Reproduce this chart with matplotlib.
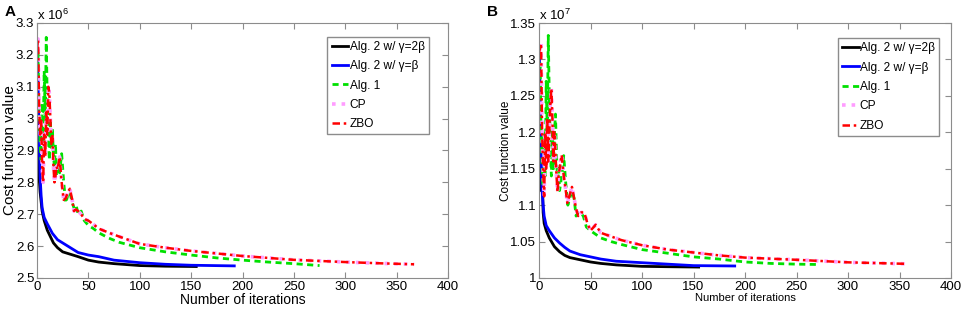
import matplotlib
matplotlib.use('Agg')

import matplotlib.pyplot as plt
from matplotlib.ticker import FormatStrFormatter

plt.rcParams['font.family'] = ['Liberation Sans', 'DejaVu Sans']
plt.rcParams['mathtext.fontset'] = 'custom'
plt.rcParams['mathtext.rm'] = 'Liberation Sans'
plt.rcParams['mathtext.it'] = 'Liberation Sans:italic'

labels = ['Alg. 2 w/ \u03b3=2\u03b2', 'Alg. 2 w/ \u03b3=\u03b2', 'Alg. 1', 'CP', 'ZBO']

## panel A, values in units of 1e6
a_black_x = [0, 1, 2, 3, 4, 5, 7, 10, 13, 16, 20, 25, 30, 40, 50, 60, 75, 100, 125, 155]
a_black_y = [3.22, 3.0, 2.82, 2.77, 2.74, 2.71, 2.68, 2.65, 2.63, 2.61, 2.595, 2.582, 2.577, 2.567,
             2.556, 2.55, 2.545, 2.539, 2.537, 2.536]
a_blue_x = [0, 1, 2, 3, 4, 5, 7, 10, 15, 20, 25, 30, 40, 50, 60, 75, 100, 125, 150, 192]
a_blue_y = [3.23, 3.12, 2.95, 2.82, 2.76, 2.72, 2.69, 2.67, 2.64, 2.62, 2.61, 2.6, 2.58, 2.572,
            2.567, 2.556, 2.548, 2.543, 2.54, 2.538]
a_alg1_x = [1, 2, 3, 4, 5, 6, 7, 8, 9, 10, 11, 12, 13, 14, 15, 16, 17, 18, 19, 20, 22, 24, 26, 28,
            30, 32, 34, 36, 38, 40, 43, 46, 50, 55, 60, 70, 80, 100, 125, 150, 175, 200, 225, 250, 275]
a_alg1_y = [3.21, 3.0, 2.92, 2.87, 3.05, 2.93, 3.15, 3.0, 3.255, 3.05, 2.95, 2.87, 3.0, 2.9, 2.97,
            2.88, 2.85, 2.92, 2.82, 2.85, 2.83, 2.89, 2.8, 2.735, 2.76, 2.77, 2.74, 2.72, 2.73, 2.7,
            2.71, 2.68, 2.665, 2.655, 2.642, 2.625, 2.612, 2.595, 2.582, 2.572, 2.563, 2.556, 2.55,
            2.545, 2.539]
a_zbo_x = [0, 1, 2, 3, 4, 5, 6, 7, 8, 9, 10, 11, 12, 13, 14, 15, 16, 17, 18, 19, 20, 22, 24, 26,
           28, 30, 32, 34, 36, 38, 40, 43, 46, 50, 55, 60, 70, 80, 100, 125, 150, 175, 200, 250,
           300, 335, 367]
a_zbo_y = [3.22, 3.25, 3.05, 2.95, 3.0, 2.85, 2.8, 2.95, 2.88, 3.02, 2.95, 3.1, 3.08, 3.0, 2.92,
           2.95, 2.85, 2.8, 2.82, 2.85, 2.84, 2.88, 2.8, 2.745, 2.75, 2.77, 2.78, 2.75, 2.71, 2.715,
           2.71, 2.7, 2.685, 2.68, 2.668, 2.655, 2.642, 2.63, 2.607, 2.595, 2.585, 2.577, 2.569,
           2.557, 2.55, 2.546, 2.543]
a_cp_x = a_zbo_x
a_cp_y = a_zbo_y

## panel B, values in units of 1e7
b_black_x = [0, 1, 2, 3, 4, 5, 7, 10, 15, 20, 25, 30, 40, 50, 60, 75, 100, 125, 155]
b_black_y = [1.31, 1.2, 1.12, 1.15, 1.09, 1.075, 1.065, 1.055, 1.043, 1.036, 1.031, 1.028, 1.025,
             1.022, 1.02, 1.018, 1.016, 1.0155, 1.015]
b_blue_x = [0, 1, 2, 3, 4, 5, 7, 10, 15, 20, 25, 30, 40, 50, 60, 75, 100, 125, 150, 190]
b_blue_y = [1.315, 1.26, 1.17, 1.12, 1.1, 1.085, 1.072, 1.065, 1.055, 1.048, 1.042, 1.037, 1.032,
            1.029, 1.026, 1.023, 1.021, 1.019, 1.017, 1.0165]
b_alg1_x = [1, 2, 3, 4, 5, 6, 7, 8, 9, 10, 11, 12, 13, 14, 15, 16, 17, 18, 19, 20, 22, 24, 26, 28,
            30, 32, 34, 36, 38, 40, 43, 46, 50, 55, 60, 70, 80, 100, 125, 150, 175, 200, 225, 250, 272]
b_alg1_y = [1.31, 1.2, 1.15, 1.125, 1.2, 1.14, 1.27, 1.2, 1.333, 1.25, 1.18, 1.14, 1.2, 1.15, 1.2,
            1.225, 1.17, 1.13, 1.15, 1.12, 1.14, 1.168, 1.13, 1.1, 1.11, 1.12, 1.11, 1.085, 1.09,
            1.09, 1.085, 1.07, 1.065, 1.06, 1.055, 1.05, 1.046, 1.039, 1.034, 1.029, 1.026, 1.022,
            1.02, 1.019, 1.0185]
b_zbo_x = [0, 1, 2, 3, 4, 5, 6, 7, 8, 9, 10, 11, 12, 13, 14, 15, 16, 17, 18, 19, 20, 22, 24, 26,
           27.5, 30, 32, 34, 36, 38, 41, 44, 47, 50, 55, 60, 70, 80, 100, 125, 150, 175, 200, 250,
           300, 355]
b_zbo_y = [1.31, 1.315, 1.322, 1.2, 1.15, 1.112, 1.2, 1.15, 1.22, 1.16, 1.2, 1.24, 1.26, 1.22,
           1.16, 1.2, 1.17, 1.14, 1.118, 1.14, 1.15, 1.169, 1.14, 1.12, 1.103, 1.115, 1.125, 1.11,
           1.095, 1.085, 1.09, 1.09, 1.075, 1.065, 1.073, 1.062, 1.057, 1.052, 1.045, 1.039,
           1.035, 1.031, 1.028, 1.025, 1.0215, 1.0195]
b_cp_x = b_zbo_x
b_cp_y = b_zbo_y

gray = '#8c8c8c'


def draw(ax, black, blue, alg1, cp, zbo, ylim, ystep, exp, xlab_size, ylab_size, leg_anchor):
    ax.plot(*black, color='black', lw=2, label=labels[0])
    ax.plot(*blue, color='#0000ff', lw=2, label=labels[1])
    ax.plot(*alg1, color='#00e000', lw=2, ls=(0, (2.2, 1.6)), label=labels[2])
    ax.plot(*cp, color='#ff9cff', lw=2.6, ls=':', label=labels[3])
    ax.plot(*zbo, color='#ff0000', lw=1.8, ls=(0, (3, 1.5, 1, 1.5)), label=labels[4])

    ax.set_xlim(0, 400)
    ax.set_ylim(*ylim)
    ax.set_xticks(range(0, 401, 50))
    n = int(round((ylim[1] - ylim[0]) / ystep))
    ax.set_yticks([ylim[0] + i * ystep for i in range(n + 1)])
    ax.yaxis.set_major_formatter(FormatStrFormatter('%g'))
    ax.tick_params(direction='in', top=True, right=True, color=gray, length=4,
                   labelsize=9.5, pad=2)
    for s in ax.spines.values():
        s.set_color(gray)
    ax.set_xlabel('Number of iterations', fontsize=xlab_size, labelpad=0)
    ax.set_ylabel('Cost function value', fontsize=ylab_size, labelpad=-1)
    ax.text(0.0, 1.0, 'x 10$^{%d}$' % exp, transform=ax.transAxes, fontsize=9.5,
            ha='left', va='bottom')
    leg = ax.legend(loc='upper right', bbox_to_anchor=leg_anchor, borderaxespad=0,
                    fontsize=8.6, handlelength=1.4, handletextpad=0.1, labelspacing=0.62,
                    borderpad=0.35, fancybox=False, framealpha=1)
    leg.get_frame().set_edgecolor(gray)
    leg.get_frame().set_linewidth(1)


fig = plt.figure(figsize=(9.64, 3.12), dpi=100)
ax1 = fig.add_axes([37 / 964, 34 / 312, 411 / 964, 255 / 312])
ax2 = fig.add_axes([539 / 964, 34 / 312, 412 / 964, 255 / 312])

draw(ax1, (a_black_x, a_black_y), (a_blue_x, a_blue_y), (a_alg1_x, a_alg1_y),
     (a_cp_x, a_cp_y), (a_zbo_x, a_zbo_y), (2.5, 3.3), 0.1, 6, 10, 11, (0.953, 0.947))
draw(ax2, (b_black_x, b_black_y), (b_blue_x, b_blue_y), (b_alg1_x, b_alg1_y),
     (b_cp_x, b_cp_y), (b_zbo_x, b_zbo_y), (1.0, 1.35), 0.05, 7, 8, 8.5, (0.971, 0.941))

fig.text(5 / 964, 1 - 12 / 312, 'A', fontsize=11, fontweight='bold', va='center')
fig.text(487 / 964, 1 - 12 / 312, 'B', fontsize=11, fontweight='bold', va='center')

plt.savefig('out.png', dpi=100)
